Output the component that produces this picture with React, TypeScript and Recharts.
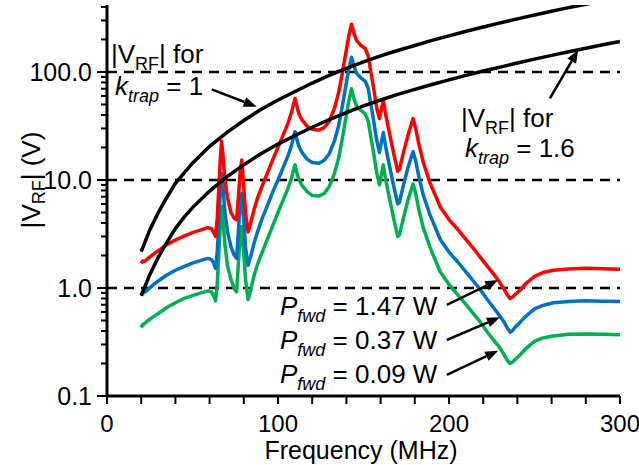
import React from 'react';
import { LineChart, Line, XAxis, YAxis, ReferenceLine } from 'recharts';

// Frequency grid (MHz) shared by the three measured |V_RF| traces
const FREQ = [
  20, 21, 22, 24, 27, 30, 35, 40, 45, 50, 55, 59, 61, 62.5, 63.5, 64.5, 65.5, 66.3, 67, 67.8,
  69, 70.5, 72.5, 74.5, 75.8, 77, 78, 78.8, 79.8, 81, 82.5, 84, 86, 88, 91, 94, 97, 100, 103, 106,
  108, 109.3, 110, 110.8, 112, 114, 117, 120, 124, 127, 130, 133, 135.5, 137.5, 139.5, 141.5, 143, 144.5, 146, 148.5,
  151, 152.8, 154.3, 156, 157.8, 159.3, 160.5, 161.6, 163, 165, 167.5, 170, 171, 173, 176, 178, 179, 180.5, 182.5, 185,
  189, 195, 200, 205, 210, 215, 218, 222, 226, 229, 232, 234, 235.7, 237, 239, 241.5, 245, 250, 255, 261,
  270, 280, 290, 300,
];
// P_fwd = 1.47 W
const RED = [
  1.69, 1.78, 1.76, 1.88, 2.05, 2.22, 2.52, 2.78, 3.02, 3.25, 3.45, 3.62, 3.55, 3.25, 3.0, 4.5, 9.0, 16, 23, 17,
  10, 6.8, 5.0, 4.4, 4.3, 7.5, 12.5, 15.3, 9.5, 5.0, 3.3, 4.0, 5.3, 6.8, 9.0, 11.8, 15.5, 20, 26, 34,
  43, 52, 57, 50, 42, 36, 31.5, 29.5, 29, 30.5, 35, 46, 65, 95, 145, 220, 277, 225, 195, 176,
  165, 140, 100, 70, 46, 37, 45, 55, 40, 28, 18, 12, 12.5, 17, 26, 33, 37, 30, 21, 14.5,
  9.3, 5.6, 4.3, 3.5, 2.8, 2.25, 1.95, 1.62, 1.35, 1.17, 0.99, 0.87, 0.8, 0.82, 0.88, 0.95, 1.1, 1.28, 1.39, 1.46,
  1.5, 1.52, 1.51, 1.49,
];
// P_fwd = 0.37 W
const BLUE = [
  0.85, 0.9, 0.91, 0.97, 1.07, 1.16, 1.32, 1.46, 1.58, 1.7, 1.8, 1.88, 1.84, 1.68, 1.52, 2.2, 4.4, 8.0, 11.5, 8.5,
  5.0, 3.3, 2.4, 2.0, 1.88, 3.7, 6.2, 7.5, 4.7, 2.4, 1.62, 1.95, 2.6, 3.3, 4.5, 5.9, 7.8, 10, 13, 17,
  21, 26, 28, 24.5, 21, 18, 15.6, 14.5, 14.3, 15.2, 17.5, 23, 32, 47, 72, 108, 137, 112, 97, 88,
  82, 70, 50, 35, 23, 18, 22.5, 27.5, 20, 14, 9, 6, 6.2, 8.5, 13, 16.5, 18.3, 15, 10.5, 7.2,
  4.7, 2.8, 2.15, 1.75, 1.4, 1.12, 0.98, 0.8, 0.66, 0.57, 0.49, 0.43, 0.39, 0.4, 0.44, 0.48, 0.55, 0.64, 0.69, 0.73,
  0.75, 0.76, 0.755, 0.75,
];
// P_fwd = 0.09 W
const GREEN = [
  0.43, 0.46, 0.47, 0.5, 0.54, 0.58, 0.66, 0.73, 0.8, 0.85, 0.9, 0.94, 0.92, 0.84, 0.76, 1.1, 2.2, 4.0, 5.7, 4.2,
  2.5, 1.6, 1.2, 0.98, 0.92, 1.85, 3.1, 3.7, 2.3, 1.2, 0.78, 0.95, 1.3, 1.65, 2.2, 2.9, 3.8, 5.0, 6.5, 8.5,
  10.5, 12.8, 13.8, 12, 10.4, 8.9, 7.8, 7.2, 7.1, 7.5, 8.7, 11.5, 16, 23.5, 36, 55, 70, 56, 48, 44,
  41, 35, 25, 17.5, 11.5, 9, 11.3, 13.8, 10, 7, 4.5, 3, 3.1, 4.2, 6.5, 8.2, 9.2, 7.5, 5.2, 3.6,
  2.35, 1.4, 1.08, 0.87, 0.7, 0.56, 0.49, 0.4, 0.33, 0.29, 0.245, 0.215, 0.2, 0.205, 0.22, 0.24, 0.275, 0.32, 0.345, 0.36,
  0.373, 0.376, 0.374, 0.37,
];

// Trap-limit curves
const K_FREQ = [20, 25, 30, 35, 40, 45, 50, 60, 70, 80, 90, 100, 110, 120, 130, 140, 150, 160, 170, 180, 190, 200, 210, 220, 230, 240, 250, 260, 270, 280, 290, 300];
const K1 = [2.17, 3.45, 5.0, 6.9, 9.3, 11.6, 14.3, 20.5, 27.5, 35.5, 45, 55, 66, 79, 93, 108, 124, 141, 158, 176, 196, 216, 238, 261, 285, 310, 337, 365, 394, 424, 455, 488];
const K16 = [0.85, 1.33, 1.93, 2.65, 3.55, 4.5, 5.55, 7.9, 10.7, 13.8, 17.5, 21.5, 25.8, 30.8, 36.3, 42, 48.5, 55, 62, 69, 76.5, 84.5, 93, 102, 111, 121, 131.5, 142.5, 154, 166, 179, 192];

const Y_TICKS = [
  0.1, 0.2, 0.3, 0.4, 0.5, 0.6, 0.7, 0.8, 0.9,
  1, 2, 3, 4, 5, 6, 7, 8, 9,
  10, 20, 30, 40, 50, 60, 70, 80, 90,
  100, 200, 300, 400,
];
const Y_MAJOR = [0.1, 1, 10, 100];
const Y_LABELS = ['0.1', '1.0', '10.0', '100.0'];
const X_TICKS = [0, 20, 40, 60, 80, 100, 120, 140, 160, 180, 200, 220, 240, 260, 280, 300];
const X_LABELED = [0, 100, 200, 300];
const DASH_LEVELS = [1, 10, 100];

// Annotation arrows (tail -> head), in data units
const ARROWS = [
  [[61.2, 69], [87.5, 47.7]],
  [[259, 57], [275.6, 160]],
  [[198.7, 0.696], [228.8, 1.186]],
  [[198.7, 0.33], [229.8, 0.535]],
  [[198.7, 0.157], [228.8, 0.263]],
];

const rows = FREQ.map((f, i) => ({ f, red: RED[i], blue: BLUE[i], green: GREEN[i] }));
const k1Rows = K_FREQ.map((f, i) => ({ f, v: K1[i] }));
const k16Rows = K_FREQ.map((f, i) => ({ f, v: K16[i] }));

const FONT = '"Liberation Sans", Arial, Helvetica, sans-serif';

const YTick = (props: any) => {
  const { x, y, payload } = props;
  const v = payload.value;
  const mi = Y_MAJOR.indexOf(v);
  const major = mi >= 0;
  return (
    <g>
      <line x1={x} x2={x - (major ? 10 : 6)} y1={y} y2={y} stroke="#000" strokeWidth={2} />
      {major && (
        <text x={x - 15} y={y + 9} textAnchor="end" fontSize={25} fontFamily={FONT} fill="#000">
          {Y_LABELS[mi]}
        </text>
      )}
    </g>
  );
};

const XTick = (props: any) => {
  const { x, y, payload } = props;
  const v = payload.value;
  const labeled = X_LABELED.indexOf(v) >= 0;
  return (
    <g>
      <line x1={x} x2={x} y1={y} y2={y + 8} stroke="#000" strokeWidth={2} />
      {labeled && (
        <text x={x} y={y + 36} textAnchor="middle" fontSize={24} fontFamily={FONT} fill="#000">
          {v}
        </text>
      )}
    </g>
  );
};

const ArrowShape = (p: any) => {
  const { x1, y1, x2, y2 } = p;
  const ang = Math.atan2(y2 - y1, x2 - x1);
  const L = 13;
  const W = 5;
  const bx = x2 - L * Math.cos(ang);
  const by = y2 - L * Math.sin(ang);
  const pts = `${x2},${y2} ${bx - W * Math.sin(ang)},${by + W * Math.cos(ang)} ${bx + W * Math.sin(ang)},${by - W * Math.cos(ang)}`;
  return (
    <g>
      <line x1={x1} y1={y1} x2={bx} y2={by} stroke="#000" strokeWidth={2.5} />
      <polygon points={pts} fill="#000" />
    </g>
  );
};

const Sub = ({ children, italic }: any) => (
  <tspan fontSize={18} dy={7} fontStyle={italic ? 'italic' : 'normal'}>{children}</tspan>
);

export default function App() {
  return (
    <div style={{ position: 'absolute', left: 0, top: 0, width: 639, height: 465, background: '#fff' }}>
      <LineChart width={639} height={465} data={rows} margin={{ top: 5, right: 19, bottom: 0, left: 0 }}>
        <XAxis
          type="number"
          dataKey="f"
          domain={[0, 300]}
          ticks={X_TICKS}
          interval={0}
          height={69}
          tickSize={0}
          tickMargin={0}
          tickLine={false}
          tick={<XTick />}
          axisLine={{ stroke: '#000', strokeWidth: 3 }}
          allowDataOverflow
        />
        <YAxis
          type="number"
          scale="log"
          domain={[0.1, 417]}
          ticks={Y_TICKS}
          interval={0}
          width={107}
          tickSize={0}
          tickMargin={0}
          tickLine={false}
          tick={<YTick />}
          axisLine={{ stroke: '#000', strokeWidth: 3 }}
          allowDataOverflow
        />
        {DASH_LEVELS.map((v) => (
          <ReferenceLine key={v} y={v} stroke="#000" strokeWidth={2.5} strokeDasharray="10 7" />
        ))}
        <Line dataKey="green" stroke="#00B050" strokeWidth={3.5} dot={false} activeDot={false} isAnimationActive={false} strokeLinejoin="round" />
        <Line dataKey="blue" stroke="#0070C0" strokeWidth={3.5} dot={false} activeDot={false} isAnimationActive={false} strokeLinejoin="round" />
        <Line dataKey="red" stroke="#FF0000" strokeWidth={3.5} dot={false} activeDot={false} isAnimationActive={false} strokeLinejoin="round" />
        <Line data={k1Rows} dataKey="v" stroke="#000" strokeWidth={3.5} dot={false} activeDot={false} isAnimationActive={false} />
        <Line data={k16Rows} dataKey="v" stroke="#000" strokeWidth={3.5} dot={false} activeDot={false} isAnimationActive={false} />
        {ARROWS.map((a, i) => (
          <ReferenceLine
            key={'a' + i}
            segment={[{ x: a[0][0], y: a[0][1] }, { x: a[1][0], y: a[1][1] }]}
            shape={ArrowShape}
            ifOverflow="visible"
          />
        ))}
      </LineChart>
      <svg
        width={639}
        height={465}
        style={{ position: 'absolute', left: 0, top: 0, pointerEvents: 'none' }}
        fontFamily={FONT}
        fill="#000"
      >
        <text x={111} y={63} fontSize={26}>
          |V<Sub>RF</Sub><tspan dy={-7}>| for</tspan>
        </text>
        <text x={115} y={95} fontSize={26}>
          <tspan fontStyle="italic">k</tspan><Sub italic>trap</Sub><tspan dy={-7}> = 1</tspan>
        </text>
        <text x={461} y={127} fontSize={26}>
          |V<Sub>RF</Sub><tspan dy={-7}>| for</tspan>
        </text>
        <text x={465} y={157} fontSize={26}>
          <tspan fontStyle="italic">k</tspan><Sub italic>trap</Sub><tspan dy={-7}> = 1.6</tspan>
        </text>
        <text x={280} y={315} fontSize={26}>
          <tspan fontStyle="italic">P</tspan><Sub italic>fwd</Sub><tspan dy={-7}> = 1.47 W</tspan>
        </text>
        <text x={280} y={349} fontSize={26}>
          <tspan fontStyle="italic">P</tspan><Sub italic>fwd</Sub><tspan dy={-7}> = 0.37 W</tspan>
        </text>
        <text x={280} y={383} fontSize={26}>
          <tspan fontStyle="italic">P</tspan><Sub italic>fwd</Sub><tspan dy={-7}> = 0.09 W</tspan>
        </text>
        <text x={361} y={459} fontSize={25} textAnchor="middle">Frequency (MHz)</text>
        <text transform="translate(40,180) rotate(-90)" fontSize={26} textAnchor="middle">
          |V<tspan fontSize={18} dy={5}>RF</tspan><tspan dy={-5}>| (V)</tspan>
        </text>
      </svg>
    </div>
  );
}
